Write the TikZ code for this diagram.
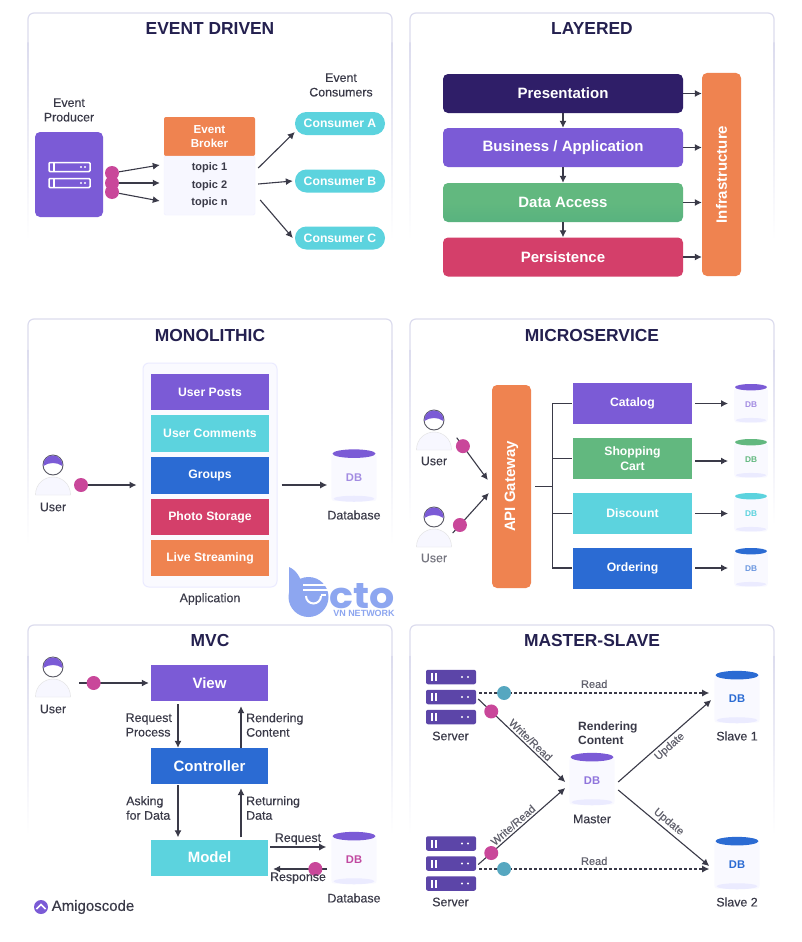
\documentclass[tikz,border=0pt]{standalone}
\usepackage{fontspec}
\setmainfont{Liberation Sans}
\newfontfamily\medfont[FakeBold=0.25]{Liberation Sans}
\newfontfamily\wmfont{Poppins}
\usetikzlibrary{arrows.meta,calc}

\definecolor{navy}{HTML}{24204F}
\definecolor{ink}{HTML}{3A3A48}
\definecolor{purp}{HTML}{7B5BD6}
\definecolor{dkpurp}{HTML}{2F1E68}
\definecolor{srvpurp}{HTML}{5C45A8}
\definecolor{orng}{HTML}{EF8350}
\definecolor{cyn}{HTML}{5CD3DE}
\definecolor{blu}{HTML}{2B6BD3}
\definecolor{pnk}{HTML}{D43F6A}
\definecolor{grn}{HTML}{62B87F}
\definecolor{mag}{HTML}{C9479A}
\definecolor{teal2}{HTML}{56A7C0}
\definecolor{wm}{HTML}{8DA6F0}
\definecolor{edge}{HTML}{DCDCEE}

\tikzset{
panel/.style={draw=edge,line width=1.2pt,rounded corners=6pt},
ttl/.style={font=\fontsize{17.4}{19}\selectfont\bfseries,text=navy,inner sep=0pt},
lbl/.style={font=\medfont\fontsize{12.4}{14.5}\selectfont,text=ink,align=center,inner sep=0pt},
lblleft/.style={lbl,align=left,anchor=west},
sm/.style={font=\medfont\fontsize{11}{12}\selectfont,text=ink!80,inner sep=0pt},
box/.style={rectangle,inner sep=0pt,text=white,align=center,font=\fontsize{12.2}{14.5}\selectfont\bfseries},
layer/.style={box,minimum width=240pt,minimum height=39pt,rounded corners=5pt,font=\fontsize{15}{17}\selectfont\bfseries},
part/.style={box,minimum width=118pt,minimum height=36.5pt},
svc/.style={box,minimum width=119pt,minimum height=41pt},
mvc/.style={box,minimum width=117pt,minimum height=36pt,font=\fontsize{15}{17}\selectfont\bfseries},
pill/.style={box,minimum width=90pt,minimum height=23pt,rounded corners=11.4pt,fill=cyn},
arr/.style={-{Latex[length=7pt,width=7pt]},line width=1.1pt,draw=ink},
pinkdot/.style={circle,fill=mag,minimum size=14pt,inner sep=0pt},
tealdot/.style={circle,fill=teal2,minimum size=14pt,inner sep=0pt},
}

\newcommand{\panelbox}[3]{
\draw[panel] (#1,#2+30) -- (#1,#2) -- (#1+364,#2) -- (#1+364,#2+30);
\shade[top color=edge,bottom color=white] (#1-.6,#2+30) rectangle (#1+.6,#3);
\shade[top color=edge,bottom color=white] (#1+363.4,#2+30) rectangle (#1+364.6,#3);
}

\newcommand{\usericon}[3]{
\node[circle,draw=ink!85,line width=.9pt,minimum size=20pt,inner sep=0pt,fill=white] (#1) at (#2,#3) {};
\begin{scope}[shift={(#2,#3)}]
\fill[purp] (-9.6,1) arc[start angle=186,end angle=-6,radius=9.6pt] .. controls (4,-3) and (-4,-3) .. cycle;
\draw[fill=blue!3,draw=black!12] (-17.5,30) .. controls (-17.5,18) and (-8,12) .. (0,12) .. controls (8,12) and (17.5,18) .. (17.5,30) -- cycle;
\end{scope}
}

\newcommand{\dbicon}[6]{
\pgfmathsetmacro\dbw{#4*2.1}
\pgfmathsetmacro\dbh{#4*2.2}
\pgfmathsetmacro\dbf{#4*.52}
\node[rectangle,rounded corners=3pt,fill=blue!2.5,inner sep=0pt,minimum width=\dbw pt,minimum height=\dbh pt,text=#6,font=\fontsize{\dbf}{\dbf}\selectfont\bfseries] (#1) at (#2,#3) {DB};
\fill[#5] (#1.north) ellipse[x radius=#4 pt,y radius=#4*.2 pt];
\fill[blue!8] ([yshift=2.6pt]#1.south) ellipse[x radius=#4*.95 pt,y radius=#4*.14 pt];
}

\begin{document}
\begin{tikzpicture}[x=1pt,y=-1pt]
\useasboundingbox[fill=white] (0,0) rectangle (802,942);

\panelbox{28}{13}{240}
\panelbox{410}{13}{240}
\panelbox{28}{319}{545}
\panelbox{410}{319}{525}
\panelbox{28}{625}{835}
\panelbox{410}{625}{835}

\node[ttl] (ttlevent) at (210,29) {EVENT DRIVEN};
\node[ttl] (ttllayer) at (592,29) {LAYERED};
\node[ttl] (ttlmono) at (210,336) {MONOLITHIC};
\node[ttl] (ttlmicro) at (592,336) {MICROSERVICE};
\node[ttl] (ttlmvc) at (210,641) {MVC};
\node[ttl] (ttlmaster) at (592,641) {MASTER-SLAVE};

\node[lbl] (producerlbl) at (69,110) {Event\\Producer};
\node[box,fill=purp,rounded corners=5pt,minimum width=68pt,minimum height=85pt] (producer) at (69,174.5) {};
\foreach \ry in {167,183}{
\node[rectangle,draw=white,line width=1.5pt,rounded corners=1pt,minimum width=41pt,minimum height=9pt,inner sep=0pt] (prod\ry) at (69.5,\ry) {};
\fill[white] (53,\ry-4) rectangle (55,\ry+4);
\fill[white] (81,\ry) circle (1.2pt) (85,\ry) circle (1.2pt);
}
\node[box,fill=orng,rounded corners=2pt,minimum width=91pt,minimum height=39pt,font=\fontsize{11.6}{14.5}\selectfont\bfseries] (brokerhead) at (209.5,136.5) {Event\\Broker};
\node[box,fill=blue!3,draw=blue!6,rounded corners=2pt,minimum width=91pt,minimum height=59pt,text=ink,font=\fontsize{11}{17.5}\selectfont\bfseries] (broker) at (209.5,185.5) {topic 1\\topic 2\\topic n};
\node[lbl] (consumerlbl) at (341,85) {Event\\Consumers};
\node[pill] (consa) at (340,123.5) {Consumer A};
\node[pill] (consb) at (340,181) {Consumer B};
\node[pill] (consc) at (340,238) {Consumer C};
\node[pinkdot] (pa) at (112,173) {};
\node[pinkdot] (pb) at (112,183) {};
\node[pinkdot] (pc) at (112,192) {};
\draw[arr] (pa) -- ([xshift=-4,yshift=20.5]broker.west);
\draw[arr] (pb) -- ([xshift=-4]broker.west |- pb);
\draw[arr] (pc) -- ([xshift=-4,yshift=-15.5]broker.west);
\draw[arr] ([xshift=3,yshift=17.5]broker.east) -- ([yshift=-8.5]consa.west);
\draw[arr] ([xshift=3,yshift=1.5]broker.east) -- ([xshift=-2]consb.west);
\draw[arr] ([xshift=5,yshift=-14.5]broker.east) -- ([xshift=-2]consc.west);

\node[layer,fill=dkpurp] (pres) at (563,93.5) {Presentation};
\node[layer,fill=purp] (biz) at (563,147.5) {Business / Application};
\node[layer,top color=grn,bottom color=grn!90!teal,middle color=grn] (data) at (563,202.5) {Data Access};
\node[layer,fill=pnk] (pers) at (563,257) {Persistence};
\node[layer,fill=orng,minimum width=39pt,minimum height=203pt] (infra) at (721.5,174.5) {\rotatebox{90}{Infrastructure}};
\draw[arr] (pres) -- (biz);
\draw[arr] (biz) -- (data);
\draw[arr] (data) -- (pers);
\draw[arr] (pres.east) -- (infra.west |- pres.east);
\draw[arr] (biz.east) -- (infra.west |- biz.east);
\draw[arr] (data.east) -- (infra.west |- data.east);
\draw[arr] (pers.east) -- (infra.west |- pers.east);

\usericon{monouser}{53}{465}
\node[lbl] (monouserlbl) at (53,507) {User};
\node[pinkdot] (monodot) at (81,485) {};
\node[rectangle,fill=blue!2,draw=blue!8,line width=1pt,rounded corners=6pt,minimum width=134pt,minimum height=224pt] (app) at (210,475) {};
\node[part,fill=purp] (posts) at (210,392) {User Posts};
\node[part,fill=cyn] (comments) at (210,433.5) {User Comments};
\node[part,fill=blu] (groups) at (210,475.5) {Groups};
\node[part,fill=pnk] (photo) at (210,517) {Photo Storage};
\node[part,fill=orng] (live) at (210,558) {Live Streaming};
\node[lbl] (applbl) at (210,599) {Application};
\dbicon{monodb}{354}{477.5}{21.5}{purp}{purp!70}
\node[lbl] (monodblbl) at (354,515) {Database};
\draw[arr] (monodot) -- ([xshift=-6]app.west |- monodot);
\draw[arr] ([xshift=4]app.east |- monodot) -- ([xshift=-4]monodb.west |- monodot);

\usericon{usera}{434}{420}
\node[lbl] (useralbl) at (434,461) {User};
\usericon{userb}{434}{517}
\node[lbl,text=ink!70] (userblbl) at (434,558) {User};
\node[layer,fill=orng,minimum width=39pt,minimum height=203pt] (gateway) at (511.5,486.5) {\rotatebox{90}{API Gateway}};
\node[svc,fill=purp] (catalog) at (632.5,403.5) {Catalog};
\node[svc,fill=grn] (cart) at (632.5,458.5) {Shopping\\Cart};
\node[svc,fill=cyn] (discount) at (632.5,513.5) {Discount};
\node[svc,fill=blu] (ordering) at (632.5,568) {Ordering};
\dbicon{catdb}{751}{405}{16}{purp}{purp!70}
\dbicon{cartdb}{751}{460}{16}{grn}{grn}
\dbicon{discdb}{751}{514}{16}{cyn}{cyn}
\dbicon{orddb}{751}{569}{16}{blu}{blu!70}
\coordinate (tree) at (552.5,486.5);
\draw[arr] ([xshift=22.7,yshift=-17.7]usera.center) -- node[pinkdot,pos=.2] (dota) {} ([xshift=-4,yshift=6.5]gateway.west);
\draw[arr] ([xshift=18.7,yshift=-16]userb.center) -- node[pinkdot,pos=.2] (dotb) {} ([xshift=-3,yshift=-6.5]gateway.west);
\draw[line width=1.1pt,draw=ink] ([xshift=4]gateway.east) -- (tree);
\draw[line width=1.1pt,draw=ink] ([xshift=-1]catalog.west) -| (tree |- ordering.west) -- ([xshift=-1]ordering.west);
\draw[line width=1.1pt,draw=ink] (tree |- cart.west) -- ([xshift=-1]cart.west);
\draw[line width=1.1pt,draw=ink] (tree |- discount.west) -- ([xshift=-1]discount.west);
\draw[arr] ([xshift=3]catalog.east) -- ([xshift=-6]catdb.west |- catalog.east);
\draw[arr] ([xshift=3,yshift=-2.5]cart.east) -- ([xshift=-6,yshift=-1]cartdb.west);
\draw[arr] ([xshift=3]discount.east) -- ([xshift=-6]discdb.west |- discount.east);
\draw[arr] ([xshift=3]ordering.east) -- ([xshift=-6]orddb.west |- ordering.east);

\usericon{mvcuser}{53}{667}
\node[lbl] (mvcuserlbl) at (53,709) {User};
\node[mvc,fill=purp] (view) at (209.5,683) {View};
\node[mvc,fill=blu] (ctrl) at (209.5,766) {Controller};
\node[mvc,fill=cyn] (model) at (209.5,857.5) {Model};
\dbicon{mvcdb}{354}{860}{21.5}{purp}{mag!90!purp}
\node[lbl] (mvcdblbl) at (354,898) {Database};
\node[lblleft] (reqproc) at (125.5,725) {Request\\Process};
\node[lblleft] (rendcont) at (246,725) {Rendering\\Content};
\node[lblleft] (askdata) at (126,808) {Asking\\for Data};
\node[lblleft] (retdata) at (246,808) {Returning\\Data};
\node[lbl] (reqlbl) at (298,839) {Request};
\draw[arr] ([xshift=26]mvcuser.center |- view.west) -- node[pinkdot,pos=.21] (mvcdot) {} ([xshift=-2]view.west);
\draw[arr] ([xshift=-31.5,yshift=-3]view.south) -- ([xshift=-31.5]ctrl.north);
\draw[arr] ([xshift=31.5]ctrl.north) -- ([xshift=31.5,yshift=-5]view.south);
\draw[arr] ([xshift=-31.5,yshift=-1]ctrl.south) -- ([xshift=-31.5,yshift=2]model.north);
\draw[arr] ([xshift=31.5,yshift=2]model.north) -- ([xshift=31.5,yshift=-4]ctrl.south);
\draw[arr] ([xshift=2,yshift=10.5]model.east) -- ([xshift=-5,yshift=10.5]mvcdb.west |- model.east);
\draw[arr] ([xshift=-4,yshift=-11.5]mvcdb.west |- model.east) -- node[pinkdot,pos=.22] (respdot) {} ([xshift=5,yshift=-11.5]model.east);
\node[lbl] (resplbl) at (298,878) {Response};
\node[circle,fill=purp,minimum size=14pt,inner sep=0pt] (logo) at (41,907) {};
\draw[white,line width=1.6pt] ([xshift=-4.5,yshift=-2]logo.center) -- ([yshift=2.5]logo.center) -- ([xshift=4.5,yshift=-2]logo.center);
\node[font=\medfont\fontsize{15}{17}\selectfont,text=ink,inner sep=0pt] (logotxt) at (93,907) {Amigoscode};

\foreach \nm/\ya in {a/677,b/843.5}{
\foreach \rw/\rr in {1/0,2/20,3/40}{
\node[rectangle,fill=srvpurp,rounded corners=2pt,minimum width=50pt,minimum height=14.5pt,inner sep=0pt] (srv\nm\rw) at (451,\ya+\rr) {};
\fill[white] (431,\ya+\rr-4) rectangle (433,\ya+\rr+4);
\fill[white] (434.5,\ya+\rr-4) rectangle (436.5,\ya+\rr+4);
\fill[white] (462,\ya+\rr) circle (1.2pt) (468,\ya+\rr) circle (1.2pt);
}
}
\node[lbl] (srvalbl) at (450.5,736) {Server};
\node[lbl] (srvblbl) at (450.5,902) {Server};
\dbicon{master}{592}{781}{21.5}{purp}{purp!85}
\node[lbl] (masterlbl) at (592,819) {Master};
\node[lblleft,font=\fontsize{12}{14.5}\selectfont\bfseries] (rendlbl) at (578,733) {Rendering\\Content};
\dbicon{slavea}{737}{699}{21.5}{blu}{blu}
\node[lbl] (slavealbl) at (737,736) {Slave 1};
\dbicon{slaveb}{737}{865}{21.5}{blu}{blu}
\node[lbl] (slaveblbl) at (737,902) {Slave 2};
\coordinate (reada) at (504,693);
\coordinate (readb) at (504,869);
\draw[arr,dash pattern=on 2.5pt off 2.5pt] ([xshift=3]srva2.east |- reada) -- node[tealdot,pos=.108] (tealb) {} node[sm,pos=.5,yshift=9] (readlbla) {Read} ([xshift=-5]slavea.west |- reada);
\draw[arr,dash pattern=on 2.5pt off 2.5pt] ([xshift=3]srvb2.east |- readb) -- node[tealdot,pos=.108] (teald) {} node[sm,pos=.5,yshift=8] (readlblb) {Read} ([xshift=-5]slaveb.west |- readb);
\draw[arr] ([xshift=2,yshift=-2]srva2.east) -- node[pinkdot,pos=.15] (pinka) {} node[sm,sloped,pos=.55,above=2pt] (wra) {Write/Read} ([xshift=-4,yshift=-1]master.west);
\draw[arr] ([xshift=2,yshift=-1]srvb2.east) -- node[pinkdot,pos=.15] (pinkb) {} node[sm,sloped,pos=.45,above=2pt] (wrb) {Write/Read} ([xshift=-4,yshift=-7]master.west);
\draw[arr] ([xshift=3.4,yshift=-1]master.east) -- node[sm,sloped,pos=.5,below=2pt] (upa) {Update} ([xshift=-3,yshift=-1]slavea.west);
\draw[arr] ([xshift=3.4,yshift=-9]master.east) -- node[sm,sloped,pos=.5,above=2pt] (upb) {Update} ([xshift=-5,yshift=-1]slaveb.west);

\fill[wm] (289,567) .. controls (296,570) and (302,578) .. (303,590) -- (289,598) -- cycle;
\fill[wm] (308.5,597) circle (20pt);
\fill[white] (303,583.5) rectangle (330,585.5);
\fill[white] (303,589) rectangle (330,591);
\draw[white,line width=2pt] (321,595) -- (326,595);
\draw[white,line width=2pt] (321,596) arc[start angle=0,end angle=-180,radius=7.5pt];
\node[font=\wmfont\fontsize{36}{36}\selectfont\bfseries,text=wm,inner sep=0pt,anchor=base,xscale=1.1] (wmcto) at (362.5,608) {cto};
\node[font=\fontsize{9}{9}\selectfont\bfseries,text=wm,inner sep=0pt] (wmvn) at (364,613) {VN NETWORK};
\end{tikzpicture}
\end{document}
